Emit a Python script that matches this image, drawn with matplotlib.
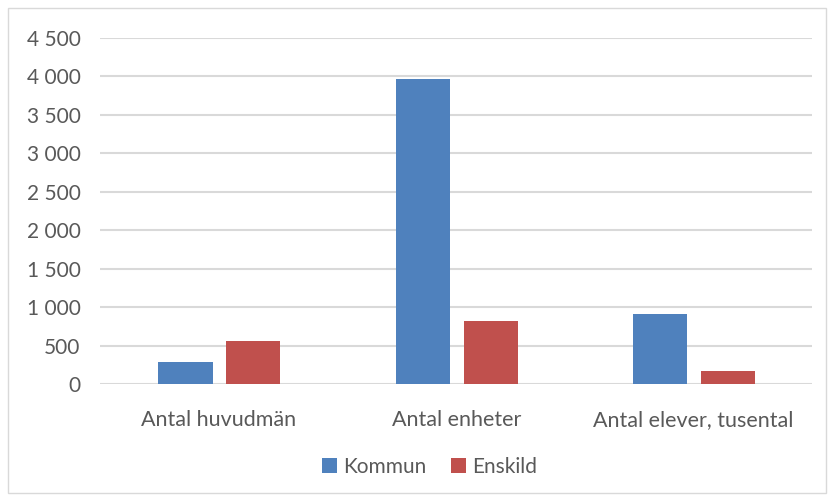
import matplotlib.pyplot as plt
from matplotlib.ticker import FuncFormatter, MultipleLocator
from matplotlib.patches import Rectangle
import numpy as np

categories = ['Antal huvudmän', 'Antal enheter', 'Antal elever, tusental']
kommun = [285, 3965, 914]
enskild = [563, 822, 168]
series_names = ['Kommun', 'Enskild']

blue = '#4F81BD'
red = '#C0504D'
text_color = '#595959'
grid_color = '#D9D9D9'

plt.rcParams['font.family'] = ['Lato', 'DejaVu Sans']

fig = plt.figure(figsize=(8.34, 5.01), dpi=100)
ax = fig.add_axes([0.12, 0.2335, 0.854, 0.691])

x = np.arange(len(categories))
w = 0.228
ax.bar(x - 0.14, kommun, w, color=blue, label=series_names[0], zorder=3)
ax.bar(x + 0.145, enskild, w, color=red, label=series_names[1], zorder=3)

ax.set_xlim(-0.5, 2.5)
ax.set_ylim(0, 4500)
ax.yaxis.set_major_locator(MultipleLocator(500))
ax.yaxis.set_major_formatter(FuncFormatter(lambda v, p: f'{int(v):,}'.replace(',', ' ')))
ax.set_xticks(x)
ax.set_xticklabels(categories)
ax.grid(axis='y', color=grid_color, linewidth=1.5, zorder=0)
for s in ax.spines.values():
    s.set_visible(False)
ax.tick_params(length=0, labelsize=15, colors=text_color)
ax.tick_params(axis='x', labelsize=15.5, pad=19)
ax.tick_params(axis='y', pad=14)

# outer chart border
fig.patches.append(Rectangle((8 / 834, 8 / 501), 818 / 834, 485 / 501, transform=fig.transFigure,
                             fill=False, edgecolor=grid_color, linewidth=1))

leg = fig.legend(loc='center', bbox_to_anchor=(0.515, 0.068), ncol=2, frameon=False,
                 fontsize=15, handlelength=0.7, handleheight=0.7, columnspacing=1.2, handletextpad=0.3)
for t in leg.get_texts():
    t.set_color(text_color)

fig.savefig('out.png', dpi=100)
